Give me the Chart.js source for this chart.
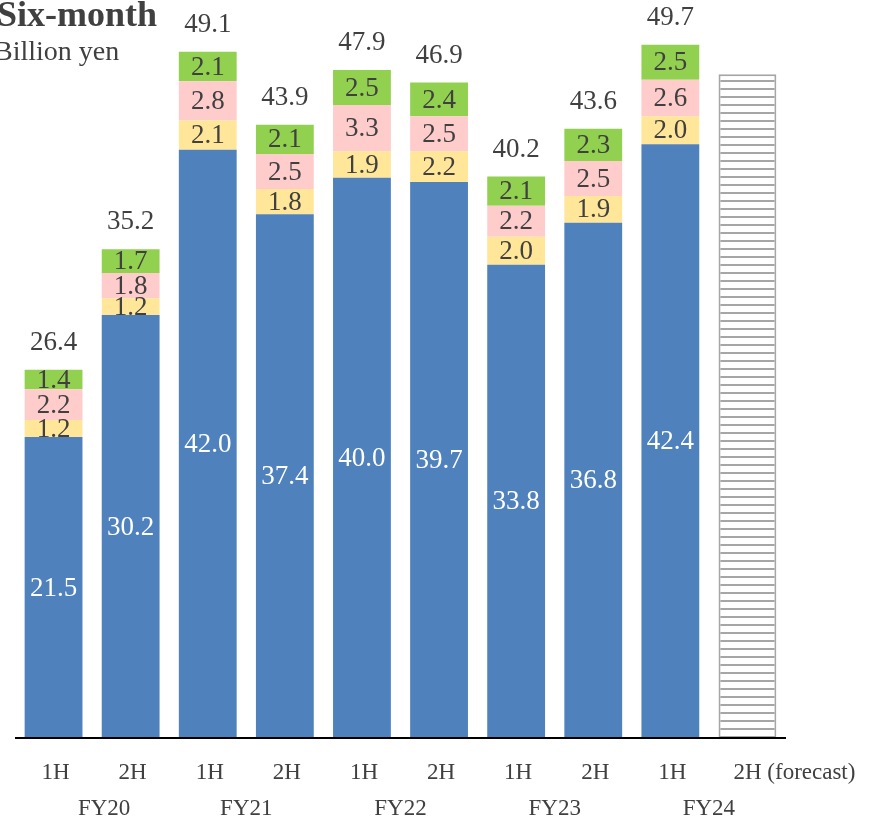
<!DOCTYPE html>
<html>
<head>
<meta charset="utf-8">
<script src="https://cdn.jsdelivr.net/npm/chart.js@4.4.0/dist/chart.umd.min.js"></script>
<style>
  body { margin: 0; background: #fff; }
  #wrap { width: 873px; height: 822px; position: relative; }
</style>
</head>
<body>
<div id="wrap"><canvas id="chart"></canvas></div>
<script>
const halves = ["1H", "2H", "1H", "2H", "1H", "2H", "1H", "2H", "1H", "2H (forecast)"];
const years = ["FY20", "FY21", "FY22", "FY23", "FY24"];

const blueVals   = [21.5, 30.2, 42.0, 37.4, 40.0, 39.7, 33.8, 36.8, 42.4, null];
const yellowVals = [1.2, 1.2, 2.1, 1.8, 1.9, 2.2, 2.0, 1.9, 2.0, null];
const pinkVals   = [2.2, 1.8, 2.8, 2.5, 3.3, 2.5, 2.2, 2.5, 2.6, null];
const greenVals  = [1.4, 1.7, 2.1, 2.1, 2.5, 2.4, 2.1, 2.3, 2.5, null];
const forecastVals = [null, null, null, null, null, null, null, null, null, 47.4];
const totals = ["26.4", "35.2", "49.1", "43.9", "47.9", "46.9", "40.2", "43.6", "49.7", ""];

const serif = "'Liberation Serif', 'Times New Roman', serif";
const textColor = "#404040";

// horizontal line hatch for the forecast bar
function hatch() {
  const c = document.createElement("canvas");
  c.width = 8; c.height = 8;
  const g = c.getContext("2d");
  g.fillStyle = "#fff";
  g.fillRect(0, 0, 8, 8);
  g.fillStyle = "#a6a6a6";
  g.fillRect(0, 0, 8, 2);
  return g.createPattern(c, "repeat");
}

const labelPlugin = {
  id: "labels",
  afterDatasetsDraw(chart) {
    const ctx = chart.ctx;
    const area = chart.chartArea;
    const xs = chart.scales.x;
    ctx.save();
    ctx.textAlign = "center";
    ctx.textBaseline = "middle";
    ctx.font = "27px " + serif;

    // segment values
    for (let d = 0; d < 4; d++) {
      const meta = chart.getDatasetMeta(d);
      const vals = chart.data.datasets[d].data;
      meta.data.forEach((bar, i) => {
        if (vals[i] == null) return;
        const y = (bar.y + bar.base) / 2;
        ctx.fillStyle = d === 0 ? "#fff" : textColor;
        ctx.fillText(vals[i].toFixed(1), bar.x, y + 1);
      });
    }

    // totals above bars
    const top = chart.getDatasetMeta(3);
    ctx.fillStyle = textColor;
    top.data.forEach((bar, i) => {
      if (!totals[i]) return;
      ctx.fillText(totals[i], bar.x, bar.y - 27);
    });

    // axis line
    ctx.strokeStyle = "#000";
    ctx.lineWidth = 2;
    ctx.beginPath();
    ctx.moveTo(area.left, area.bottom);
    ctx.lineTo(area.right, area.bottom);
    ctx.stroke();

    // category labels
    ctx.font = "23px " + serif;
    halves.forEach((h, i) => {
      const x = xs.getPixelForValue(i);
      if (i === halves.length - 1) {
        ctx.textAlign = "left";
        ctx.fillText(h, x - 14, area.bottom + 35);
        ctx.textAlign = "center";
      } else {
        ctx.fillText(h, x + 2, area.bottom + 35);
      }
    });
    years.forEach((y, j) => {
      const x = (xs.getPixelForValue(j * 2) + xs.getPixelForValue(j * 2 + 1)) / 2;
      ctx.fillText(y, j === 0 ? x + 12 : x, area.bottom + 71);
    });

    // title
    ctx.textAlign = "left";
    ctx.textBaseline = "alphabetic";
    ctx.font = "bold 36px " + serif;
    ctx.fillText("Six-month", -3, 26);
    ctx.font = "28px " + serif;
    ctx.fillText("Billion yen", -6, 60);
    ctx.restore();
  }
};

const common = { stack: "s", borderWidth: 0, barPercentage: 0.75, categoryPercentage: 1.0 };

new Chart(document.getElementById("chart"), {
  type: "bar",
  data: {
    labels: halves,
    datasets: [
      { ...common, label: "blue", data: blueVals, backgroundColor: "#4f81bd" },
      { ...common, label: "yellow", data: yellowVals, backgroundColor: "#ffe699" },
      { ...common, label: "pink", data: pinkVals, backgroundColor: "#ffcccc" },
      { ...common, label: "green", data: greenVals, backgroundColor: "#92d050" },
      { ...common, label: "forecast", data: forecastVals, backgroundColor: hatch(),
        borderColor: "#a6a6a6", borderWidth: 2, borderSkipped: false }
    ]
  },
  options: {
    responsive: true,
    maintainAspectRatio: false,
    animation: false,
    layout: { padding: { left: 15, right: 87, top: 0, bottom: 84 } },
    plugins: { legend: { display: false }, tooltip: { enabled: false } },
    scales: {
      x: { display: false, stacked: true },
      y: { display: false, stacked: true, min: 0, max: 52.7 }
    }
  },
  plugins: [labelPlugin]
});
</script>
</body>
</html>
